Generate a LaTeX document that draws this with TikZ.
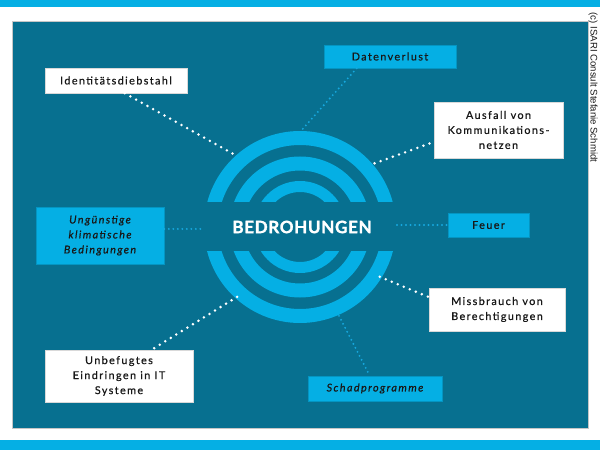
\documentclass[tikz,border=0pt]{standalone}
\usepackage{fontspec}
\setmainfont{Lato}[LetterSpace=13, UprightFeatures={FakeBold=0.6}, ItalicFeatures={FakeBold=0.6}]
\newfontfamily\titlefont{Lato}[LetterSpace=4, UprightFont=* Bold, UprightFeatures={FakeBold=1.6}]
\newfontfamily\copyfont{Liberation Sans}
\usepackage{tikz}
\usetikzlibrary{calc}
\definecolor{panel}{RGB}{7,112,144}
\definecolor{sky}{RGB}{5,175,228}
\definecolor{skydot}{RGB}{22,168,222}
\definecolor{ink}{RGB}{24,24,24}
\tikzset{
  basic/.style    = {rectangle, inner sep=0pt, align=center, text=ink,
                     font=\fontsize{10.8}{15}\selectfont},
  whitebox/.style = {basic, fill=white, draw=gray!30, line width=0.6pt},
  bluebox/.style  = {basic, fill=sky, draw=sky!85!black, line width=0.6pt},
  ring/.style     = {draw=sky},
  dots/.style     = {white, line width=2.8pt, line cap=round,
                     dash pattern=on 0pt off 6.5pt},
  bluedots/.style = {skydot, line width=2.1pt, line cap=round,
                     dash pattern=on 0pt off 4.5pt}
}

\begin{document}
\begin{tikzpicture}[x=1pt,y=1pt]
      \useasboundingbox (0,0) rectangle (600,450);
      \fill[sky] (0,443) rectangle (600,450);
      \fill[sky] (0,0) rectangle (600,10);
      \filldraw[fill=panel, draw=gray!45, line width=0.6pt] (12,22) rectangle (588,429);
      \node[rotate=-90, text=ink, font=\copyfont\fontsize{9.6}{11}\selectfont] (copy) at (593,362.5) {(c) ISARI Consult Stefanie Schmidt};

      \coordinate (c) at (300,223);
      \begin{scope}
        \clip (190,248) rectangle (410,330);
        \foreach \r/\w in {89/14, 63.5/14, 40.5/11}
          \draw[ring, line width=\w] (c) circle (\r);
      \end{scope}
      \begin{scope}
        \clip (190,198) rectangle (410,110);
        \foreach \r/\w in {89/14, 63.5/14, 40.5/11}
          \draw[ring, line width=\w] (c) circle (\r);
      \end{scope}
      \node[text=white, font=\titlefont\fontsize{17}{20}\selectfont] (title) at (302,223) {BEDROHUNGEN};

      \node[whitebox, minimum width=142, minimum height=25] (ident) at (116,369.5) {Identitätsdiebstahl};
      \node[bluebox, minimum width=132, minimum height=23] (dat) at (390,393.5) {Datenverlust};
      \node[whitebox, minimum width=129, minimum height=56] (aus) at (498.5,320) {Ausfall von\\Kommunikations-\\netzen};
      \node[bluebox, minimum width=128, minimum height=57] (ung) at (100,214.5) {\itshape Ungünstige\\\itshape klimatische\\\itshape Bedingungen};
      \node[bluebox, minimum width=81, minimum height=24] (feu) at (488.5,225) {Feuer};
      \node[whitebox, minimum width=136, minimum height=43] (miss) at (497,140.5) {Missbrauch von\\Berechtigungen};
      \node[whitebox, minimum width=148, minimum height=52] (unb) at (119,74) {Unbefugtes\\Eindringen in IT\\Systeme};
      \node[bluebox, minimum width=134, minimum height=25] (schad) at (375,61.5) {\itshape Schadprogramme};

      \coordinate (r1) at ($(c)+(132:97)$);
      \coordinate (r2) at ($(c)+(89:97)$);
      \coordinate (r3) at ($(c)+(40.5:98)$);
      \coordinate (r4) at (203,221);
      \coordinate (r5) at (397,225);
      \coordinate (r6) at ($(c)+(-32:94)$);
      \coordinate (r7) at ($(c)+(228:94)$);
      \coordinate (r8) at ($(c)+(293.7:97)$);

      \draw[dots] ($(ident.south west)+(80,0)$) -- (r1);
      \draw[bluedots] ($(dat.south west)+(33,0)$) -- (r2);
      \draw[dots] (r3) -- ($(aus.west)+(0,-12)$);
      \draw[bluedots] (ung.east |- r4) -- (r4);
      \draw[bluedots] (r5) -- (feu.west);
      \draw[dots] (r6) -- ($(miss.west)+(0,12.5)$);
      \draw[dots] (r7) -- ($(unb.north west)+(107,0)$);
      \draw[bluedots] (r8) -- ($(schad.north west)+(62,0)$);
\end{tikzpicture}
\end{document}
